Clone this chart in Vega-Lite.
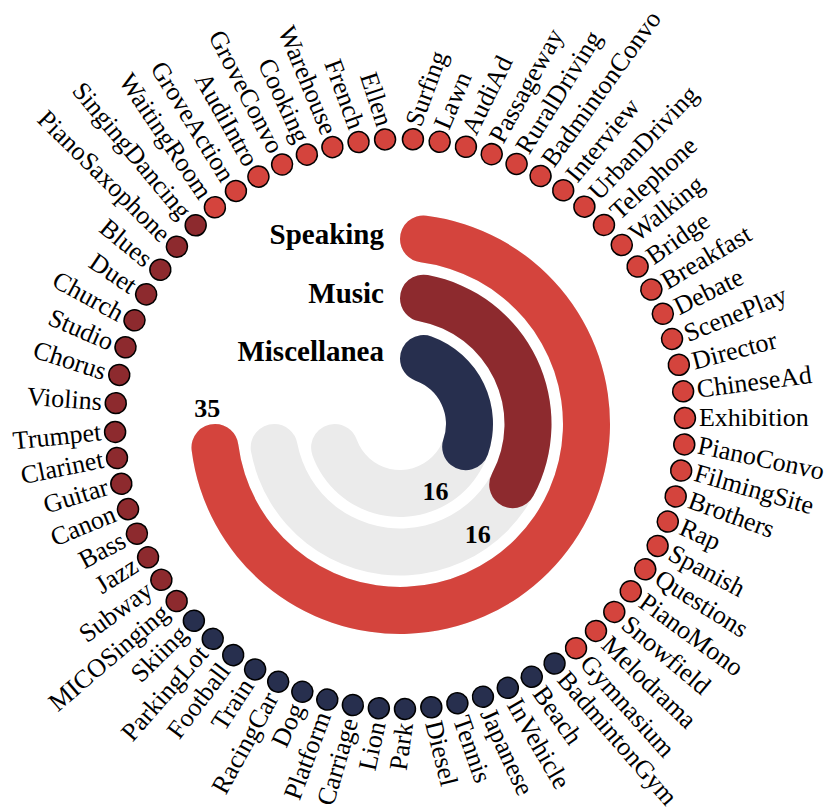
{
  "$schema": "https://vega.github.io/schema/vega-lite/v6.json",
  "autosize": {"type": "none"},
  "width": 800,
  "height": 772,
  "padding": {"left": 0, "top": 38, "right": 30, "bottom": 2},
  "background": "white",
  "config": {"view": {"stroke": null}, "text": {"font": "Liberation Serif"}},
  "datasets": {
    "bars": [
      {"category": "Speaking", "count": 35},
      {"category": "Music", "count": 16},
      {"category": "Miscellanea", "count": 16}
    ],
    "scenes": [
      {"name": "WaitingRoom", "category": "Speaking"},
      {"name": "GroveAction", "category": "Speaking"},
      {"name": "AudiIntro", "category": "Speaking"},
      {"name": "GroveConvo", "category": "Speaking"},
      {"name": "Cooking", "category": "Speaking"},
      {"name": "Warehouse", "category": "Speaking"},
      {"name": "French", "category": "Speaking"},
      {"name": "Ellen", "category": "Speaking"},
      {"name": "Surfing", "category": "Speaking"},
      {"name": "Lawn", "category": "Speaking"},
      {"name": "AudiAd", "category": "Speaking"},
      {"name": "Passageway", "category": "Speaking"},
      {"name": "RuralDriving", "category": "Speaking"},
      {"name": "BadmintonConvo", "category": "Speaking"},
      {"name": "Interview", "category": "Speaking"},
      {"name": "UrbanDriving", "category": "Speaking"},
      {"name": "Telephone", "category": "Speaking"},
      {"name": "Walking", "category": "Speaking"},
      {"name": "Bridge", "category": "Speaking"},
      {"name": "Breakfast", "category": "Speaking"},
      {"name": "Debate", "category": "Speaking"},
      {"name": "ScenePlay", "category": "Speaking"},
      {"name": "Director", "category": "Speaking"},
      {"name": "ChineseAd", "category": "Speaking"},
      {"name": "Exhibition", "category": "Speaking"},
      {"name": "PianoConvo", "category": "Speaking"},
      {"name": "FilmingSite", "category": "Speaking"},
      {"name": "Brothers", "category": "Speaking"},
      {"name": "Rap", "category": "Speaking"},
      {"name": "Spanish", "category": "Speaking"},
      {"name": "Questions", "category": "Speaking"},
      {"name": "PianoMono", "category": "Speaking"},
      {"name": "Snowfield", "category": "Speaking"},
      {"name": "Melodrama", "category": "Speaking"},
      {"name": "Gymnasium", "category": "Speaking"},
      {"name": "BadmintonGym", "category": "Miscellanea"},
      {"name": "Beach", "category": "Miscellanea"},
      {"name": "InVehicle", "category": "Miscellanea"},
      {"name": "Japanese", "category": "Miscellanea"},
      {"name": "Tennis", "category": "Miscellanea"},
      {"name": "Diesel", "category": "Miscellanea"},
      {"name": "Park", "category": "Miscellanea"},
      {"name": "Lion", "category": "Miscellanea"},
      {"name": "Carriage", "category": "Miscellanea"},
      {"name": "Platform", "category": "Miscellanea"},
      {"name": "Dog", "category": "Miscellanea"},
      {"name": "RacingCar", "category": "Miscellanea"},
      {"name": "Train", "category": "Miscellanea"},
      {"name": "Football", "category": "Miscellanea"},
      {"name": "ParkingLot", "category": "Miscellanea"},
      {"name": "Skiing", "category": "Miscellanea"},
      {"name": "MICOSinging", "category": "Music"},
      {"name": "Subway", "category": "Music"},
      {"name": "Jazz", "category": "Music"},
      {"name": "Bass", "category": "Music"},
      {"name": "Canon", "category": "Music"},
      {"name": "Guitar", "category": "Music"},
      {"name": "Clarinet", "category": "Music"},
      {"name": "Trumpet", "category": "Music"},
      {"name": "Violins", "category": "Music"},
      {"name": "Chorus", "category": "Music"},
      {"name": "Studio", "category": "Music"},
      {"name": "Church", "category": "Music"},
      {"name": "Duet", "category": "Music"},
      {"name": "Blues", "category": "Music"},
      {"name": "PianoSaxophone", "category": "Music"},
      {"name": "SingingDancing", "category": "Music"}
    ]
  },
  "resolve": {"scale": {"theta": "independent", "radius": "independent"}},
  "layer": [
    {
      "data": {"name": "bars"},
      "encoding": {
        "radius": {
          "field": "category",
          "type": "nominal",
          "scale": {"type": "point", "domain": ["Miscellanea", "Music", "Speaking"], "range": [93, 210], "padding": 0}
        }
      },
      "layer": [
        {
          "mark": {"type": "arc", "cornerRadius": 23.5, "radius2Offset": -47, "thetaOffset": 0.1745, "color": "#ebebeb"},
          "encoding": {
            "theta": {"datum": 35, "type": "quantitative", "scale": {"domain": [0, 35], "range": [0, 4.538], "zero": false, "nice": false}},
            "theta2": {"datum": 0},
            "radius2": {"field": "category"}
          }
        },
        {
          "mark": {"type": "arc", "cornerRadius": 23.5, "radius2Offset": -47, "thetaOffset": 0.1745},
          "encoding": {
            "theta": {"field": "count", "type": "quantitative", "stack": null},
            "theta2": {"datum": 0},
            "radius2": {"field": "category"},
            "color": {
              "field": "category",
              "type": "nominal",
              "scale": {"domain": ["Speaking", "Music", "Miscellanea"], "range": ["#d4443d", "#8d2a2e", "#272f4e"]},
              "legend": null
            }
          }
        },
        {
          "mark": {"type": "text", "align": "right", "baseline": "middle", "fontWeight": "bold", "fontSize": 29, "dx": -16, "dy": 21, "color": "black"},
          "encoding": {
            "theta": {"datum": 0, "type": "quantitative"},
            "text": {"field": "category"}
          }
        },
        {
          "transform": [{"filter": "datum.category === 'Speaking'"}],
          "mark": {"type": "text", "align": "center", "baseline": "middle", "fontWeight": "bold", "fontSize": 26, "dx": 14, "dy": -51, "color": "black"},
          "encoding": {
            "theta": {"field": "count", "type": "quantitative", "stack": null},
            "text": {"field": "count"}
          }
        },
        {
          "transform": [{"filter": "datum.category === 'Music'"}],
          "mark": {"type": "text", "align": "center", "baseline": "middle", "fontWeight": "bold", "fontSize": 26, "dx": -55, "dy": 38, "color": "black"},
          "encoding": {
            "theta": {"field": "count", "type": "quantitative", "stack": null},
            "text": {"field": "count"}
          }
        },
        {
          "transform": [{"filter": "datum.category === 'Miscellanea'"}],
          "mark": {"type": "text", "align": "center", "baseline": "middle", "fontWeight": "bold", "fontSize": 26, "dx": -46, "dy": 23, "color": "black"},
          "encoding": {
            "theta": {"field": "count", "type": "quantitative", "stack": null},
            "text": {"field": "count"}
          }
        }
      ]
    },
    {
      "data": {"name": "scenes"},
      "transform": [{"window": [{"op": "row_number", "as": "idx"}]}],
      "encoding": {
        "theta": {
          "field": "idx",
          "type": "quantitative",
          "stack": null,
          "scale": {
            "domain": [1, 8, 9, 25, 42, 59, 60, 67],
            "range": [-0.70686, -0.05236, 0.04538, 1.54985, 3.12414, 4.68447, 4.78569, 5.48383],
            "zero": false,
            "nice": false
          }
        }
      },
      "resolve": {"scale": {"angle": "independent"}},
      "layer": [
        {
          "mark": {"type": "arc", "cornerRadius": 10.5, "thetaOffset": -0.0368, "theta2Offset": 0.0368, "stroke": "black", "strokeWidth": 1.5},
          "encoding": {
            "theta2": {"field": "idx"},
            "radius": {"value": 295.5},
            "radius2": {"value": 274.5},
            "color": {
              "field": "category",
              "type": "nominal",
              "scale": {"domain": ["Speaking", "Music", "Miscellanea"], "range": ["#d4443d", "#8d2a2e", "#272f4e"]},
              "legend": null
            }
          }
        },
        {
          "transform": [{"filter": "datum.idx >= 9 && datum.idx <= 41"}],
          "mark": {"type": "text", "align": "left", "baseline": "middle", "fontSize": 26, "color": "black"},
          "encoding": {
            "radius": {"value": 299},
            "text": {"field": "name"},
            "angle": {
              "field": "idx",
              "type": "quantitative",
              "scale": {"domain": [9, 13, 19, 22, 25, 26, 35, 36, 41], "range": [-70, -58, -35, -22, 0, 12, 48, 49, 76], "zero": false, "nice": false},
              "legend": null
            }
          }
        },
        {
          "transform": [{"filter": "datum.idx <= 8 || datum.idx >= 42"}],
          "mark": {"type": "text", "align": "right", "baseline": "middle", "fontSize": 26, "color": "black"},
          "encoding": {
            "radius": {"value": 299},
            "text": {"field": "name"},
            "angle": {
              "field": "idx",
              "type": "quantitative",
              "scale": {"domain": [1, 8, 42, 55, 59, 60, 61, 67], "range": [56, 72, -82, -28, -6, 4, 18, 50], "zero": false, "nice": false},
              "legend": null
            }
          }
        }
      ]
    }
  ]
}
